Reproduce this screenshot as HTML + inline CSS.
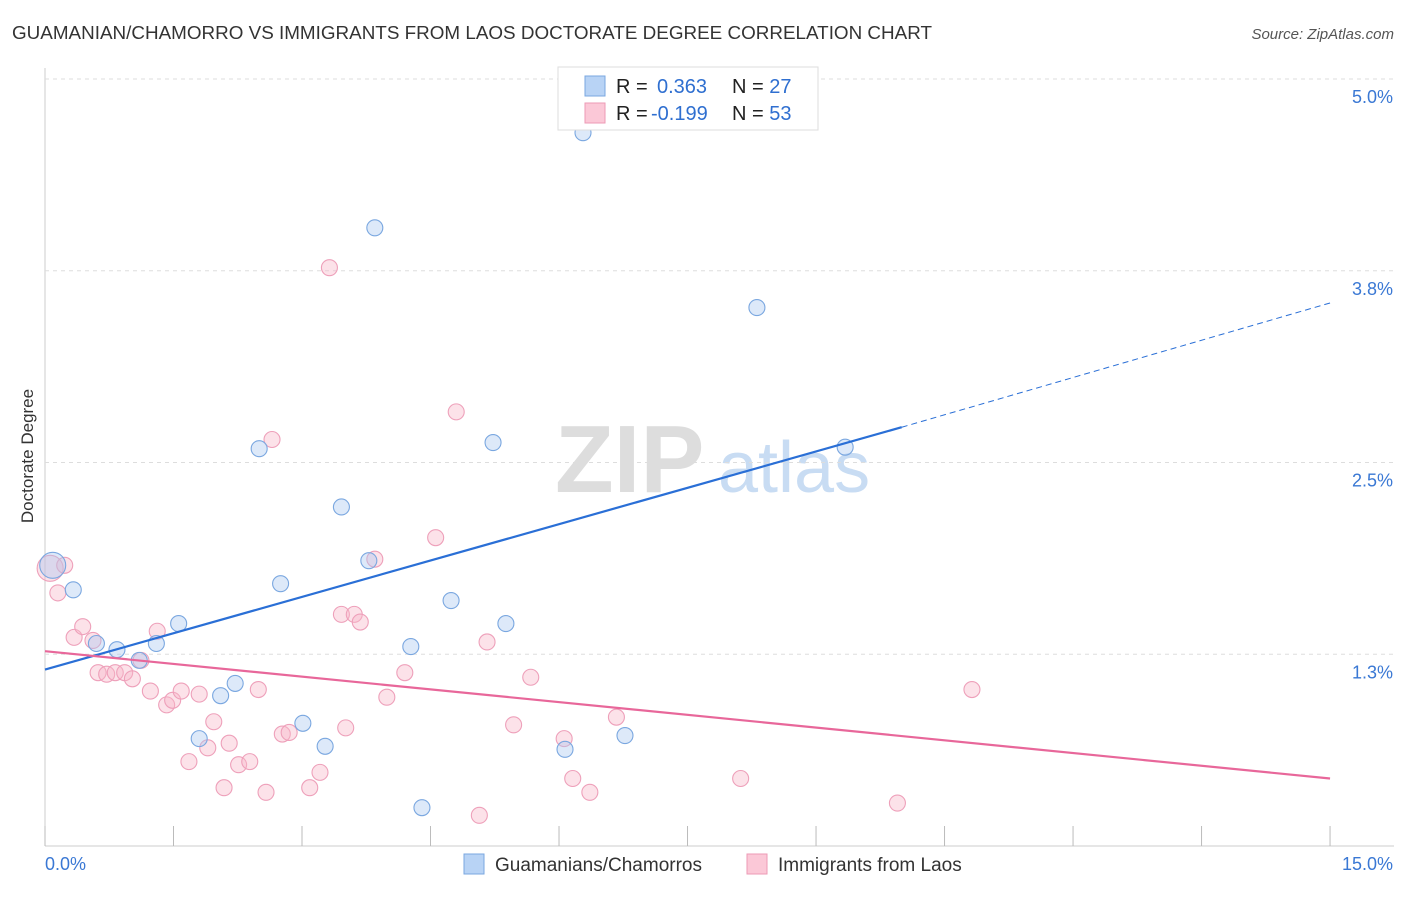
<!DOCTYPE html>
<html><head><meta charset="utf-8"><style>
body{margin:0;background:#fff;font-family:"Liberation Sans",sans-serif;}
svg text{font-family:"Liberation Sans",sans-serif;}
</style></head><body>
<svg id="chart" width="1406" height="892" xmlns="http://www.w3.org/2000/svg">
<text x="12" y="39" font-size="18" fill="#333" textLength="920" lengthAdjust="spacingAndGlyphs">GUAMANIAN/CHAMORRO VS IMMIGRANTS FROM LAOS DOCTORATE DEGREE CORRELATION CHART</text>
<text x="1394" y="39" font-size="15" fill="#555" font-style="italic" text-anchor="end">Source: ZipAtlas.com</text>
<text x="33" y="456" font-size="17" fill="#333" text-anchor="middle" transform="rotate(-90 33 456)">Doctorate Degree</text>
<g><text x="555" y="492" font-size="96" fill="#ddd" font-family="Liberation Serif" font-weight="bold">ZIP</text><text x="718" y="492" font-size="72" fill="#c8dcf3">atlas</text></g>
<g id="grid"></g><g id="marks"></g>
<g>
<rect x="558" y="67" width="260" height="63" fill="#fff" stroke="#ddd"/>
<rect x="585" y="76" width="20" height="20" fill="#b8d3f5" stroke="#7aa7e0"/>
<rect x="585" y="103" width="20" height="20" fill="#fbc8d7" stroke="#ec9ab5"/>
<text x="616" y="93" font-size="20" fill="#222">R = <tspan fill="#2f6fd0" x="657">0.363</tspan><tspan x="732" fill="#222">N = </tspan><tspan fill="#2f6fd0">27</tspan></text>
<text x="616" y="120" font-size="20" fill="#222">R = <tspan fill="#2f6fd0" x="651">-0.199</tspan><tspan x="732" fill="#222">N = </tspan><tspan fill="#2f6fd0">53</tspan></text>
</g>
<g>
<rect x="464" y="854" width="20" height="20" fill="#b8d3f5" stroke="#7aa7e0"/>
<text x="495" y="871" font-size="19" fill="#333">Guamanians/Chamorros</text>
<rect x="747" y="854" width="20" height="20" fill="#fbc8d7" stroke="#ec9ab5"/>
<text x="778" y="871" font-size="19" fill="#333">Immigrants from Laos</text>
</g>
</svg>
<script>
const xTicks=[0,1.5,3,4.5,6,7.5,9,10.5,12,13.5,15];
const yTicks=[1.25,2.5,3.75,5.0];
const yTickLabels=["1.3%","2.5%","3.8%","5.0%"];
const blueX=[0.09,0.33,0.60,0.84,1.10,1.30,1.56,1.80,2.05,2.22,2.50,2.75,3.01,3.27,3.46,3.78,3.85,4.27,4.40,4.74,5.23,5.38,6.07,6.28,6.77,8.31,9.34];
const blueY=[1.83,1.67,1.32,1.28,1.21,1.32,1.45,0.70,0.98,1.06,2.59,1.71,0.80,0.65,2.21,1.86,4.03,1.30,0.25,1.60,2.63,1.45,0.63,4.65,0.72,3.51,2.60];
const pinkX=[0.06,0.23,0.15,0.34,0.44,0.56,0.62,0.72,0.82,0.93,1.02,1.12,1.23,1.31,1.42,1.49,1.59,1.68,1.80,1.90,1.97,2.09,2.15,2.26,2.39,2.49,2.58,2.65,2.77,2.85,3.09,3.21,3.32,3.46,3.51,3.61,3.68,3.85,3.99,4.20,4.56,4.80,5.07,5.16,5.47,5.67,6.06,6.16,6.36,6.67,8.12,9.95,10.82];
const pinkY=[1.81,1.83,1.65,1.36,1.43,1.34,1.13,1.12,1.13,1.13,1.09,1.21,1.01,1.40,0.92,0.95,1.01,0.55,0.99,0.64,0.81,0.38,0.67,0.53,0.55,1.02,0.35,2.65,0.73,0.74,0.38,0.48,3.77,1.51,0.77,1.51,1.46,1.87,0.97,1.13,2.01,2.83,0.20,1.33,0.79,1.10,0.70,0.44,0.35,0.84,0.44,0.28,1.02];
const blueTrend=[1.15,2.73,3.54]; // at x=0,10,15
const pinkTrend=[1.27,0.44]; // at x=0,15
const X=v=>45+v*85.67, Y=v=>846-v*153.4;
const NS="http://www.w3.org/2000/svg";
function mk(parent,tag,attrs){const e=document.createElementNS(NS,tag);for(const k in attrs)e.setAttribute(k,attrs[k]);document.getElementById(parent).appendChild(e);return e;}
let e=mk('grid','line',{x1:45,y1:68,x2:45,y2:846,stroke:'#ccc'});


e=mk('grid','line',{x1:45,y1:846,x2:1394,y2:846,stroke:'#ccc'});


yTicks.forEach((t,i)=>{
 let g=mk('grid','line',{x1:45,y1:Y(t),x2:1394,y2:Y(t),stroke:'#ddd','stroke-dasharray':'4,4'});
 
 
 let l=mk('grid','text',{x:1393,y:Y(t)+24,'font-size':18,fill:'#3a78d4','text-anchor':'end'});l.textContent=yTickLabels[i];
 
 
});
xTicks.forEach(t=>{
 let g=mk('grid','line',{x1:X(t),y1:826,x2:X(t),y2:846,stroke:'#bbb'});
 
 
});
let l0=mk('grid','text',{x:45,y:870,'font-size':18,fill:'#3a78d4'});l0.textContent="0.0%";


let l1=mk('grid','text',{x:1393,y:870,'font-size':18,fill:'#3a78d4','text-anchor':'end'});l1.textContent="15.0%";


pinkX.forEach((x,i)=>{
 let c=mk('marks','circle',{cx:X(x),cy:Y(pinkY[i]),r:i==0?13:8,fill:'rgba(247,182,201,0.4)',stroke:'#eea0ba','stroke-width':1.1});
 
 
});
blueX.forEach((x,i)=>{
 let c=mk('marks','circle',{cx:X(x),cy:Y(blueY[i]),r:i==0?13:8,fill:'rgba(169,200,240,0.4)',stroke:'#7aa7e0','stroke-width':1.1});
 
 
});
let t1=mk('marks','line',{x1:X(0),y1:Y(blueTrend[0]),x2:X(10),y2:Y(blueTrend[1]),stroke:'#2a6fd6','stroke-width':2.2});


let t2=mk('marks','line',{x1:X(10),y1:Y(blueTrend[1]),x2:X(15),y2:Y(blueTrend[2]),stroke:'#2a6fd6','stroke-width':1,'stroke-dasharray':'6,4'});


let t3=mk('marks','line',{x1:X(0),y1:Y(pinkTrend[0]),x2:X(15),y2:Y(pinkTrend[1]),stroke:'#e8679a','stroke-width':2.2});


</script>
</body></html>
